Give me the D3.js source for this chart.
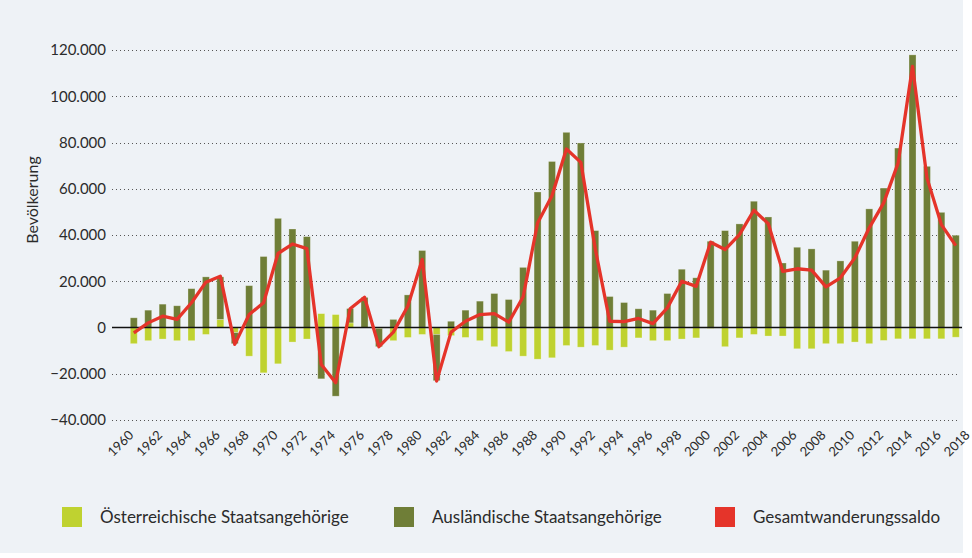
<!DOCTYPE html>
<html>
<head>
<meta charset="utf-8">
<script src="https://cdn.jsdelivr.net/npm/d3@7"></script>
<style>
  body { margin: 0; background: #fff; }
  text { font-family: Lato, "Open Sans", sans-serif; fill: #2b2b2b; }
</style>
</head>
<body>
<svg id="chart" width="972" height="558"></svg>
<script>
// axis categories (the picture labels every second year, 1960..2018)
var years = d3.range(1960, 2019);
var tickYears = years.filter(function(y) { return y % 2 == 0; });
var yTicks = [-40000, -20000, 0, 20000, 40000, 60000, 80000, 100000, 120000];

// migration balance, one value per bar (58 bars)
var austrians = [-7000, -5700, -5000, -5700, -5700, -3000, 3500, -2200, -12400, -19600,
  -15700, -6300, -5000, 6000, 5600, 2000, 0, -500, -5700, -4300,
  -3000, -3000, -3500, -4300, -5700, -8300, -10400, -12400, -13700, -13100,
  -7800, -8500, -7800, -9800, -8500, -4500, -5700, -5700, -5000, -4500,
  -400, -8300, -4500, -3000, -3700, -3700, -9200, -9200, -7000, -7000,
  -6300, -7000, -5600, -4900, -4900, -4900, -4900, -4200];
var foreigners = [4200, 7500, 10100, 9400, 16800, 21900, 18400, -4800, 18100, 30700,
  47200, 42600, 39300, -22200, -29700, 6200, 13000, -7800, 3500, 14100,
  33300, -20000, 2700, 7500, 11400, 14700, 12100, 26000, 58600, 71800,
  84400, 79800, 41900, 13400, 10800, 8100, 7500, 14700, 25200, 21500,
  37300, 41900, 44800, 54600, 47800, 27900, 34700, 34000, 24800, 28800,
  37300, 51300, 60300, 77600, 117900, 69700, 49800, 39900];
var total = [-2300, 2000, 4900, 3500, 10700, 19600, 22200, -7300, 5600, 10700,
  32000, 36100, 34100, -16000, -23900, 8100, 13100, -8300, -2000, 9200,
  29400, -23200, -2000, 2700, 5600, 6000, 2300, 13300, 45200, 57000,
  77200, 71400, 34000, 2700, 2500, 3900, 1700, 8500, 20000, 17800,
  36900, 33700, 40200, 50700, 44900, 24300, 25400, 24800, 17600, 21500,
  30100, 43100, 53900, 71100, 112900, 64700, 44500, 35400];

var seriesNames = ["Österreichische Staatsangehörige", "Ausländische Staatsangehörige", "Gesamtwanderungssaldo"];
var colors = ["#bfd230", "#6f7e37", "#e5342a"];

var svg = d3.select("#chart");

// panel background
svg.append("rect")
  .attr("width", 963).attr("height", 553)
  .attr("fill", "#eef2f6");

var x = d3.scalePoint()
  .domain(years)
  .range([133.8, 970.2]);
var y = d3.scaleLinear()
  .domain([-40000, 120000])
  .range([420, 50]);

var de = d3.formatLocale({decimal: ",", thousands: ".", grouping: [3], currency: ["", "€"]});
var fmt = de.format(",");

// gridlines
svg.append("g")
  .selectAll("line")
  .data(yTicks.filter(function(d) { return d != 0; }))
  .enter().append("line")
    .attr("x1", 112).attr("x2", 960)
    .attr("y1", function(d) { return Math.round(y(d)) + 0.5; })
    .attr("y2", function(d) { return Math.round(y(d)) + 0.5; })
    .attr("stroke", "#555")
    .attr("stroke-width", 1)
    .attr("stroke-dasharray", "1,3");

// y labels
svg.append("g")
  .selectAll("text")
  .data(yTicks)
  .enter().append("text")
    .attr("x", 106)
    .attr("y", function(d) { return y(d); })
    .attr("dy", "0.35em")
    .attr("text-anchor", "end")
    .style("font-size", "15px")
    .text(function(d) { return fmt(d); });

svg.append("text")
  .attr("transform", "translate(38," + 200 + ") rotate(-90)")
  .attr("text-anchor", "middle")
  .style("font-size", "16px")
  .text("Bevölkerung");

// stacked bars (diverging)
var rows = austrians.map(function(a, i) {
  return {year: years[i], a: a, f: foreigners[i]};
});
var stack = d3.stack()
  .keys(["a", "f"])
  .offset(d3.stackOffsetDiverging);
var layers = stack(rows);
var barW = 7;

svg.append("g")
  .selectAll("g")
  .data(layers)
  .enter().append("g")
    .attr("fill", function(d, i) { return colors[i]; })
  .selectAll("rect")
  .data(function(d) { return d; })
  .enter().append("rect")
    .attr("x", function(d) { return x(d.data.year) - barW / 2; })
    .attr("width", barW)
    .attr("y", function(d) { return y(Math.max(d[0], d[1])); })
    .attr("height", function(d) { return Math.abs(y(d[0]) - y(d[1])); })
    .attr("stroke", "rgba(255,255,255,0.35)")
    .attr("stroke-width", 0.8);

// zero line
svg.append("line")
  .attr("x1", 112).attr("x2", 962)
  .attr("y1", y(0)).attr("y2", y(0))
  .attr("stroke", "#111")
  .attr("stroke-width", 1.5);

// total line
var line = d3.line()
  .x(function(d, i) { return x(years[i]); })
  .y(function(d) { return y(d); });
svg.append("path")
  .datum(total)
  .attr("d", line)
  .attr("fill", "none")
  .attr("stroke", colors[2])
  .attr("stroke-width", 3.3)
  .attr("stroke-linejoin", "round");

// x labels
svg.append("g")
  .selectAll("text")
  .data(tickYears)
  .enter().append("text")
    .attr("transform", function(d) { return "translate(" + (x(d) + 0.5) + ",436) rotate(-45)"; })
    .attr("text-anchor", "end")
    .style("font-size", "13px")
    .text(function(d) { return d; });

// legend
var legX = [62, 394, 715];
var leg = svg.append("g")
  .selectAll("g")
  .data(seriesNames)
  .enter().append("g")
    .attr("transform", function(d, i) { return "translate(" + legX[i] + ",507)"; });
leg.append("rect")
  .attr("width", 20).attr("height", 20)
  .attr("fill", function(d, i) { return colors[i]; });
leg.append("text")
  .attr("x", 38).attr("y", 10)
  .attr("dy", "0.35em")
  .style("font-size", "17px")
  .text(function(d) { return d; });
</script>
</body>
</html>
